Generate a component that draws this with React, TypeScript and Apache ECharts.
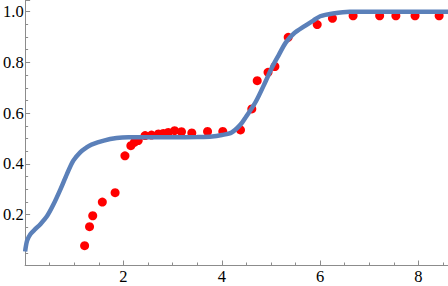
import React, { useEffect, useRef } from "react";
import * as echarts from "echarts";

const blueX = [0, 0.04, 0.11, 0.21, 0.31, 0.45, 0.58, 0.72, 0.85, 0.98, 1.12, 1.25, 1.35, 1.6, 1.86, 2.1, 2.5, 3.0, 3.5, 3.8, 4.0, 4.2, 4.38, 4.49, 4.69, 4.89, 5.02, 5.16, 5.3, 5.46, 5.7, 5.86, 6.0, 6.26, 6.6, 7.0, 7.5, 8.0, 8.6];
const blueY = [0.055, 0.098, 0.124, 0.144, 0.163, 0.196, 0.242, 0.301, 0.36, 0.413, 0.446, 0.465, 0.476, 0.492, 0.502, 0.505, 0.505, 0.505, 0.506, 0.508, 0.514, 0.524, 0.555, 0.585, 0.645, 0.725, 0.78, 0.83, 0.878, 0.913, 0.945, 0.965, 0.982, 0.993, 1.0, 1.0, 1.0, 1.0, 1.0];

const redX = [1.21, 1.31, 1.375, 1.57, 1.83, 2.03, 2.15, 2.22, 2.3, 2.44, 2.57, 2.71, 2.81, 2.91, 3.04, 3.18, 3.39, 3.71, 4.02, 4.38, 4.61, 4.72, 4.94, 5.08, 5.35, 5.94, 6.25, 6.67, 7.21, 7.54, 7.93, 8.42];
const redY = [0.078, 0.153, 0.196, 0.25, 0.287, 0.432, 0.472, 0.485, 0.492, 0.512, 0.514, 0.518, 0.52, 0.524, 0.531, 0.527, 0.522, 0.528, 0.528, 0.534, 0.617, 0.728, 0.761, 0.784, 0.899, 0.949, 0.974, 0.984, 0.984, 0.984, 0.984, 0.984];

const xMin = 0;
const xMax = 8.6;
const yMin = 0;
const yMax = 1.046;

export default function App() {
  const ref = useRef<HTMLDivElement>(null);
  useEffect(() => {
    if (!ref.current) return;
    const chart = echarts.init(ref.current, undefined, { renderer: "svg" });
    const axisColor = "#8c8c8c";
    const font = "Liberation Serif";
    chart.setOption({
      animation: false,
      grid: { left: 22.5, right: 0, top: 0, bottom: 20.5, containLabel: false },
      xAxis: {
        type: "value",
        min: xMin,
        max: xMax,
        interval: 2,
        axisLine: { show: true, lineStyle: { color: axisColor, width: 1 } },
        axisTick: { show: true, inside: true, length: 5, lineStyle: { color: axisColor } },
        minorTick: { show: true, splitNumber: 4, length: 3, lineStyle: { color: axisColor } },
        splitLine: { show: false },
        axisLabel: {
          showMaxLabel: false,
          margin: 2,
          color: "#000",
          fontFamily: font,
          fontSize: 16.5,
          formatter: (v: number) => (v === 0 ? "" : String(v)),
        },
      },
      yAxis: {
        type: "value",
        min: yMin,
        max: yMax,
        interval: 0.2,
        axisLine: { show: true, lineStyle: { color: axisColor, width: 1 } },
        axisTick: { show: true, inside: true, length: 5, lineStyle: { color: axisColor } },
        minorTick: { show: true, splitNumber: 4, length: 3, lineStyle: { color: axisColor } },
        splitLine: { show: false },
        axisLabel: {
          showMaxLabel: false,
          margin: 1.5,
          color: "#000",
          fontFamily: font,
          fontSize: 16.5,
          formatter: (v: number) => (v === 0 ? "" : v.toFixed(1)),
        },
      },
      series: [
        {
          type: "scatter",
          data: redX.map((x, i) => [x, redY[i]]),
          symbol: "circle",
          symbolSize: 9,
          itemStyle: { color: "#ff0000", opacity: 1 },
          z: 2,
        },
        {
          type: "line",
          data: blueX.map((x, i) => [x, blueY[i]]),
          showSymbol: false,
          smooth: 0.3,
          lineStyle: { color: "#5b80b9", width: 4.5 },
          z: 3,
        },
      ],
    });
    return () => chart.dispose();
  }, []);
  return (
    <div
      ref={ref}
      style={{ position: "fixed", left: 0, top: 0, width: 448, height: 286, background: "#fff" }}
    />
  );
}
